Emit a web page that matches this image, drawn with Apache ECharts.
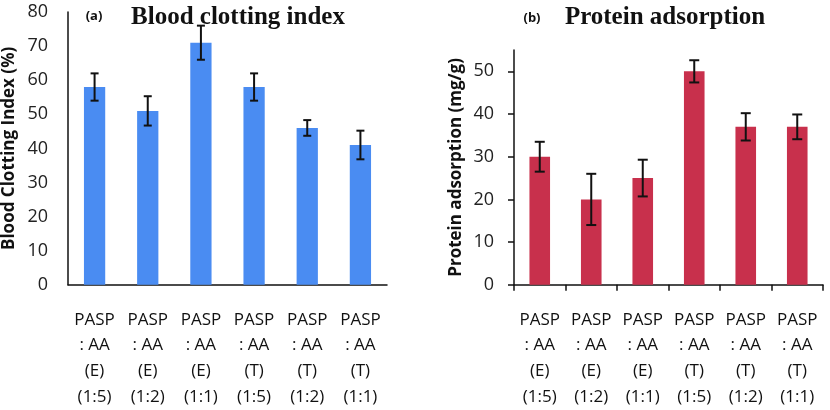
<!DOCTYPE html>
<html>
<head>
<meta charset="utf-8">
<script src="https://cdn.jsdelivr.net/npm/echarts@6/dist/echarts.min.js"></script>
<style>html,body{margin:0;padding:0;background:#fff}#c{width:830px;height:410px}</style>
</head>
<body>
<div id="c"></div>
<script>
var categories = ['PASP\n: AA\n(E)\n(1:5)', 'PASP\n: AA\n(E)\n(1:2)', 'PASP\n: AA\n(E)\n(1:1)', 'PASP\n: AA\n(T)\n(1:5)', 'PASP\n: AA\n(T)\n(1:2)', 'PASP\n: AA\n(T)\n(1:1)'];
var clottingValues = [58, 51, 71, 58, 46, 41];
var clottingErrors = [4, 4.3, 5, 4, 2.3, 4.2];
var proteinValues = [30, 20, 25, 50, 37, 37];
var proteinErrors = [3.5, 6, 4.3, 2.6, 3.2, 2.9];

var chart = echarts.init(document.getElementById('c'));
var sansFont = '"Open Sans", "Noto Sans", sans-serif';
var serifFont = '"Liberation Serif", "DejaVu Serif", serif';

function errData(vals, errs) {
  return vals.map(function (v, i) { return [i, v - errs[i], v + errs[i]]; });
}
function errRender(capHalf) {
  return function (params, api) {
    var lo = api.coord([api.value(0), api.value(1)]);
    var hi = api.coord([api.value(0), api.value(2)]);
    var x = lo[0];
    var st = { stroke: '#111', lineWidth: 2 };
    return {
      type: 'group',
      children: [
        { type: 'line', shape: { x1: x, y1: hi[1], x2: x, y2: lo[1] }, style: st },
        { type: 'line', shape: { x1: x - capHalf, y1: hi[1], x2: x + capHalf, y2: hi[1] }, style: st },
        { type: 'line', shape: { x1: x - capHalf, y1: lo[1], x2: x + capHalf, y2: lo[1] }, style: st }
      ]
    };
  };
}

var catLabel = { fontFamily: sansFont, fontSize: 17, color: '#111', lineHeight: 25.8, margin: 22, interval: 0 };
var valLabel = { fontFamily: sansFont, fontSize: 18, color: '#222', margin: 20 };
var nameStyle = { fontFamily: sansFont, fontSize: 17, fontWeight: 'bold', color: '#111' };

chart.setOption({
  animation: false,
  title: [
    { text: 'Blood clotting index', left: 233, top: 0, textAlign: 'center',
      textStyle: { fontFamily: serifFont, fontSize: 25, fontWeight: 'bold', color: '#111' } },
    { text: '(a)', left: 89, top: 5, textAlign: 'center',
      textStyle: { fontFamily: sansFont, fontSize: 13, fontWeight: 'bold', color: '#111' } },
    { text: 'Protein adsorption', left: 660, top: 0, textAlign: 'center',
      textStyle: { fontFamily: serifFont, fontSize: 25, fontWeight: 'bold', color: '#111' } },
    { text: '(b)', left: 527, top: 7, textAlign: 'center',
      textStyle: { fontFamily: sansFont, fontSize: 13, fontWeight: 'bold', color: '#111' } }
  ],
  grid: [
    { left: 68, right: 443, top: 12, bottom: 124 },
    { left: 514, right: 7, top: 50, bottom: 124 }
  ],
  xAxis: [
    { type: 'category', gridIndex: 0, data: categories,
      axisLine: { lineStyle: { color: '#111', width: 1.5 } },
      axisTick: { show: false }, axisLabel: catLabel },
    { type: 'category', gridIndex: 1, data: categories,
      axisLine: { lineStyle: { color: '#111', width: 1.5 } },
      axisTick: { show: true, length: 6, lineStyle: { color: '#111', width: 1.5 } },
      axisLabel: catLabel }
  ],
  yAxis: [
    { type: 'value', gridIndex: 0, min: 0, max: 80, interval: 10,
      name: 'Blood Clotting Index (%)', nameLocation: 'middle', nameGap: 50, nameRotate: 90,
      nameMoveOverlap: false, nameTextStyle: nameStyle,
      axisLine: { show: true, lineStyle: { color: '#111', width: 1.5 } },
      axisTick: { show: false }, splitLine: { show: false },
      axisLabel: valLabel },
    { type: 'value', gridIndex: 1, min: 0, max: 55, interval: 10,
      name: 'Protein adsorption (mg/g)', nameLocation: 'middle', nameGap: 49, nameRotate: 90,
      nameMoveOverlap: false, nameTextStyle: nameStyle,
      axisLine: { show: true, lineStyle: { color: '#111', width: 1.5 } },
      axisTick: { show: true, length: 6, lineStyle: { color: '#111', width: 1.5 } },
      splitLine: { show: false },
      axisLabel: Object.assign({ showMaxLabel: false,
        formatter: function (v) { return v % 10 === 0 ? String(v) : ''; } }, valLabel) }
  ],
  series: [
    { type: 'bar', xAxisIndex: 0, yAxisIndex: 0, data: clottingValues, barWidth: '40%',
      itemStyle: { color: '#4A8CF2' } },
    { type: 'custom', xAxisIndex: 0, yAxisIndex: 0, data: errData(clottingValues, clottingErrors),
      renderItem: errRender(4), z: 5 },
    { type: 'bar', xAxisIndex: 1, yAxisIndex: 1, data: proteinValues, barWidth: '40%',
      itemStyle: { color: '#C8304C' } },
    { type: 'custom', xAxisIndex: 1, yAxisIndex: 1, data: errData(proteinValues, proteinErrors),
      renderItem: errRender(5), z: 5 }
  ]
});
</script>
</body>
</html>
